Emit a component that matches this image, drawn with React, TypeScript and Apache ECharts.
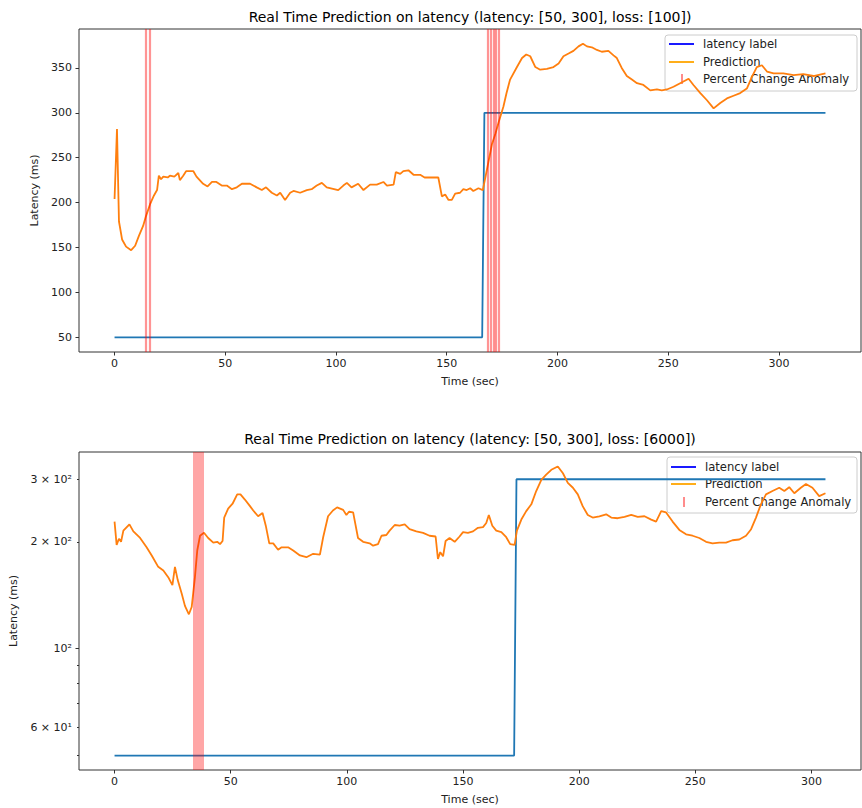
import React, { useEffect, useRef } from "react";
import * as echarts from "echarts";

const topTitle = "Real Time Prediction on latency (latency: [50, 300], loss: [100])";
const bottomTitle = "Real Time Prediction on latency (latency: [50, 300], loss: [6000])";
const legendNames = ["latency label", "Prediction", "Percent Change Anomaly"];
const xName = "Time (sec)";
const yName = "Latency (ms)";

const topLabelTime = [0, 166, 167, 321];
const topLabelValue = [50, 50, 300, 300];
const topPredTime = [
  0, 1.1, 2, 3.4, 5.2, 7.5, 9.3, 11, 12.9, 14.2, 16, 17.8, 19.2, 20, 21, 22, 24, 25, 27, 28.8, 29.5, 31, 32.3, 35.6, 37,
  40, 42, 44, 46, 48.4, 50.7, 53, 55.2, 57.5, 61.2, 64.2, 66.5, 68.4, 71, 73.3, 74.8, 77, 79.3, 80.8, 83.8, 86.8, 89,
  91.3, 93.6, 95.8, 101, 103.3, 104.9, 107, 110, 112.4, 115.4, 118.4, 121.4, 123, 126, 127, 129, 130.4, 132.7, 135,
  138, 140, 146.2, 147.8, 149.3, 150.8, 152.3, 153.8, 156, 157.5, 159, 160.6, 162, 164.3, 166.3, 168, 170.4, 172,
  173.5, 175.6, 177, 178.6, 181.7, 184, 185.9, 187.7, 190, 192.2, 195.2, 198.2, 200.5, 202.7, 205, 207.2, 209.5,
  211.5, 213.3, 215.5, 217.8, 220, 223, 225.3, 226.8, 229, 231.3, 233.6, 235.9, 238.8, 241.9, 244.9, 247.1, 249.4,
  252.4, 255.4, 259.2, 261.4, 264.5, 267.5, 270.5, 273.5, 276.5, 279.5, 282.5, 285.5, 287.8, 290, 292.3, 294.6,
  297.6, 302, 306.6, 311, 315.6, 321,
];
const topPredValue = [
  204, 282, 179, 159, 151, 147, 152, 163, 174, 185, 198, 208, 214, 230, 226, 229, 228, 230, 229, 233, 225, 230, 235, 235, 229,
  221, 218, 223, 223, 219, 219, 215, 217, 221, 221, 217, 214, 217, 211, 208, 211, 203, 211, 213, 211, 214, 215,
  219, 222, 217, 214, 219, 222, 217, 221, 214, 220, 220, 223, 219, 220, 234, 232, 235, 236, 231,
  231, 228, 228, 207, 209, 203, 203, 210, 211, 215, 214, 216, 213, 216, 214, 235, 265, 277,
  290, 307, 322, 337, 351, 361, 365, 363, 351, 348, 349, 351, 355, 363, 366, 369, 374,
  377, 374, 373, 370, 368, 369, 364, 361, 350, 341, 337, 333, 331, 325, 326, 325, 326,
  329, 333, 338, 331, 322, 314, 305, 311, 316, 319, 322, 327, 340, 351, 353, 346,
  344, 344, 342, 343, 341, 344,
];
const topAnomalies = [14.3, 15.7, 168.4, 169.8, 171, 172.1, 173.3];

const bottomLabelTime = [0, 172, 173, 306];
const bottomLabelValue = [50, 50, 300, 300];
const bottomPredTime = [
  0, 0.9, 1.9, 2.8, 3.8, 6.4, 8.1, 11, 13.8, 16, 18.8, 21, 23.1, 24.9, 26, 27.2, 28.9, 30.3, 32, 33.2, 34.6, 35.6, 36.8,
  38.5, 40.3, 42.5, 44.2, 45.4, 46.5, 47.2, 48.9, 50.8, 52.8, 54.2, 56.1, 58.3, 59.7, 61.8, 63.7, 65.1, 66.6, 68.3,
  70.4, 71.9, 74.7, 76.9, 79.8, 82.6, 85.5, 88.4, 89.8, 91.9, 94, 95.8, 98.4, 99.8, 100.9, 102.7, 104.8, 107, 109.8,
  111.3, 113.4, 114.9, 117, 118.4, 120.6, 122.7, 124.9, 127, 129.9, 132.8, 135.6, 138.2, 139.2, 140.2, 141.4, 142.5,
  144.2, 146.4, 148.5, 150, 152.1, 154.3, 156.4, 158.6, 160, 161.1, 162.6, 164.3, 166.5, 168.6, 170.3, 172.2, 173.2,
  175.1, 177.2, 179.4, 181.5, 183.7, 185.8, 188, 190.8, 193, 195.1, 197.3, 199.4, 201.5, 203.7, 205.8, 208.7, 211.6,
  213.8, 216.6, 219.5, 222.4, 225.2, 228.1, 231, 233.1, 235.3, 237.4, 240.2, 243.1, 246, 248.8, 251.7, 254.6, 257.4,
  260.3, 263.2, 266, 268.9, 271.8, 274, 276.1, 278.2, 280.4, 283.2, 286.1, 288.3, 290.4, 292.6, 295.4, 297.6, 300.4,
  303.3, 306,
];
const bottomPredValue = [
  228, 196, 204, 200, 215, 224, 214, 205, 193, 183, 170, 166, 159, 151, 170, 156, 143, 132, 125, 131, 159, 189, 208,
  212, 205, 199, 200, 197, 201, 234, 248, 256, 272, 272, 263, 252, 245, 236, 241, 222, 198, 198,
  190, 193, 193, 189, 183, 181, 185, 184, 206, 236, 245, 250, 246, 238, 243, 242, 205, 200, 198,
  195, 197, 208, 209, 215, 223, 222, 224, 217, 214, 212, 208, 207, 179, 187, 182, 201,
  205, 200, 207, 213, 212, 214, 219, 220, 226, 238, 222, 215, 213, 206, 197, 196, 215,
  231, 244, 255, 278, 299, 309, 319, 326, 312, 293, 284, 272, 252, 238, 234, 236, 239,
  234, 233, 235, 238, 235, 236, 231, 228, 244, 242, 228, 216, 210, 208, 205, 200, 198,
  199, 199, 202, 203, 208, 217, 234, 255, 272, 278, 284, 278, 285, 274, 284, 291, 284,
  269, 274,
];
const bottomAnomalies = [36];

const xTicks = [0, 50, 100, 150, 200, 250, 300];
const topYTicks = [50, 100, 150, 200, 250, 300, 350];
const bottomYTicks = [60, 100, 200, 300];
const bottomYTickLabels = ["6 × 10¹", "10²", "2 × 10²", "3 × 10²"];
const bottomYMajorTicks = [100];
const bottomYMinorTicks = [50, 60, 70, 80, 90, 200, 300];

const FONT = "DejaVu Sans";
const TEXT = "#222";
const SPINE = "#333";

function range(vals: number[]) {
  const lo = Math.min(...vals);
  const hi = Math.max(...vals);
  const m = 0.05 * (hi - lo);
  return [lo - m, hi + m];
}

export default function App() {
  const ref = useRef<HTMLDivElement>(null);
  useEffect(() => {
    document.body.style.margin = "0";
    const chart = echarts.init(ref.current!, undefined, { renderer: "svg" });
    const log = (v: number) => Math.log10(v);

    const [tx0, tx1] = range([...topLabelTime, ...topPredTime]);
    const [ty0, ty1] = range([...topLabelValue, ...topPredValue]);
    const [bx0, bx1] = range([...bottomLabelTime, ...bottomPredTime]);
    const [by0, by1] = range([...bottomLabelValue, ...bottomPredValue].map(log));

    const tickStyle = { color: SPINE, width: 1 };
    const labelStyle = { color: TEXT, fontFamily: FONT, fontSize: 11 };
    const nameStyle = { color: TEXT, fontFamily: FONT, fontSize: 11 };

    const xAxisCfg = (gridIndex: number, min: number, max: number) => ({
      type: "value",
      gridIndex,
      min,
      max,
      axisLine: { show: false, onZero: false },
      splitLine: { show: false },
      axisTick: { show: true, customValues: xTicks, length: 3.5, lineStyle: tickStyle },
      axisLabel: { customValues: xTicks, margin: 6, ...labelStyle },
      name: xName,
      nameLocation: "middle",
      nameGap: 24,
      nameTextStyle: nameStyle,
    });

    const anomalyLine = (vals: number[], width: number, alpha: number) => ({
      silent: true,
      symbol: ["none", "none"],
      label: { show: false },
      emphasis: { disabled: true },
      lineStyle: { color: `rgba(255,0,0,${alpha})`, width, type: "solid" },
      data: vals.map((t) => ({ xAxis: t })),
    });

    const zip = (a: number[], b: number[], f = (v: number) => v) => a.map((t, i) => [t, f(b[i])]);

    const legend = (x: number, y: number, w: number, h: number, rowY: number[]) => ({
      type: "group",
      z: 100,
      children: [
        {
          type: "rect",
          shape: { x, y, width: w, height: h, r: 3 },
          style: { fill: "rgba(255,255,255,0.8)", stroke: "#ccc", lineWidth: 1 },
        },
        { type: "line", shape: { x1: x + 4, y1: rowY[0], x2: x + 29, y2: rowY[0] }, style: { stroke: "#0000ff", lineWidth: 1.8 } },
        { type: "line", shape: { x1: x + 4, y1: rowY[1], x2: x + 29, y2: rowY[1] }, style: { stroke: "#ffa500", lineWidth: 1.8 } },
        { type: "line", shape: { x1: x + 17, y1: rowY[2] - 5, x2: x + 17, y2: rowY[2] + 5 }, style: { stroke: "rgba(255,0,0,0.45)", lineWidth: 2 } },
        ...legendNames.map((n, i) => ({
          type: "text",
          x: x + 38,
          y: rowY[i],
          style: { text: n, fill: TEXT, font: `11.6px '${FONT}'`, verticalAlign: "middle", align: "left" },
        })),
      ],
    });

    const yBase = {
      type: "value",
      axisLine: { show: false, onZero: false },
      splitLine: { show: false },
    };

    const option: any = {
      animation: false,
      grid: [
        { left: 79, top: 29, width: 782, height: 323, show: true, borderColor: SPINE, borderWidth: 1, backgroundColor: "transparent" },
        { left: 79, top: 452, width: 782, height: 318, show: true, borderColor: SPINE, borderWidth: 1, backgroundColor: "transparent" },
      ],
      xAxis: [xAxisCfg(0, tx0, tx1), xAxisCfg(1, bx0, bx1)],
      yAxis: [
        {
          ...yBase,
          gridIndex: 0,
          position: "left",
          min: ty0,
          max: ty1,
          axisTick: { show: true, customValues: topYTicks, length: 3.5, lineStyle: tickStyle },
          axisLabel: { customValues: topYTicks, margin: 7, ...labelStyle },
          name: yName,
          nameLocation: "middle",
          nameGap: 34,
          nameTextStyle: nameStyle,
        },
        {
          ...yBase,
          gridIndex: 1,
          position: "left",
          min: by0,
          max: by1,
          axisTick: { show: true, customValues: bottomYMajorTicks.map(log), length: 3.5, lineStyle: tickStyle },
          axisLabel: {
            customValues: bottomYTicks.map(log),
            margin: 7,
            ...labelStyle,
            formatter: (v: number) => {
              const i = bottomYTicks.findIndex((t) => Math.abs(log(t) - v) < 1e-6);
              return i >= 0 ? bottomYTickLabels[i] : "";
            },
          },
          name: yName,
          nameLocation: "middle",
          nameGap: 52,
          nameTextStyle: nameStyle,
        },
        {
          ...yBase,
          gridIndex: 1,
          position: "left",
          offset: 0,
          min: by0,
          max: by1,
          axisTick: { show: true, customValues: bottomYMinorTicks.map(log), length: 2, lineStyle: tickStyle },
          axisLabel: { show: false },
        },
      ],
      series: [
        {
          type: "line",
          xAxisIndex: 0,
          yAxisIndex: 0,
          data: zip(topLabelTime, topLabelValue),
          showSymbol: false,
          lineStyle: { color: "#1f77b4", width: 1.8 },
          z: 2,
        },
        {
          type: "line",
          xAxisIndex: 0,
          yAxisIndex: 0,
          data: zip(topPredTime, topPredValue),
          showSymbol: false,
          lineStyle: { color: "#ff7f0e", width: 1.8 },
          z: 3,
          markLine: anomalyLine(topAnomalies, 2.2, 0.42),
        },
        {
          type: "line",
          xAxisIndex: 1,
          yAxisIndex: 1,
          data: zip(bottomLabelTime, bottomLabelValue, log),
          showSymbol: false,
          lineStyle: { color: "#1f77b4", width: 1.8 },
          z: 2,
        },
        {
          type: "line",
          xAxisIndex: 1,
          yAxisIndex: 1,
          data: zip(bottomPredTime, bottomPredValue, log),
          showSymbol: false,
          lineStyle: { color: "#ff7f0e", width: 1.8 },
          z: 3,
          markLine: anomalyLine(bottomAnomalies, 11, 0.35),
        },
      ],
      graphic: [
        {
          type: "text",
          x: 470,
          y: 17,
          style: { text: topTitle, fill: "#000", font: `14px '${FONT}'`, align: "center", verticalAlign: "middle" },
        },
        {
          type: "text",
          x: 470,
          y: 439,
          style: { text: bottomTitle, fill: "#000", font: `14px '${FONT}'`, align: "center", verticalAlign: "middle" },
        },
        legend(665, 35, 192, 56, [44, 62, 79]),
        legend(667, 457, 190, 56, [467, 484, 502]),
      ],
    };
    chart.setOption(option);
    return () => chart.dispose();
  }, []);
  return <div ref={ref} style={{ width: 862, height: 808 }} />;
}
